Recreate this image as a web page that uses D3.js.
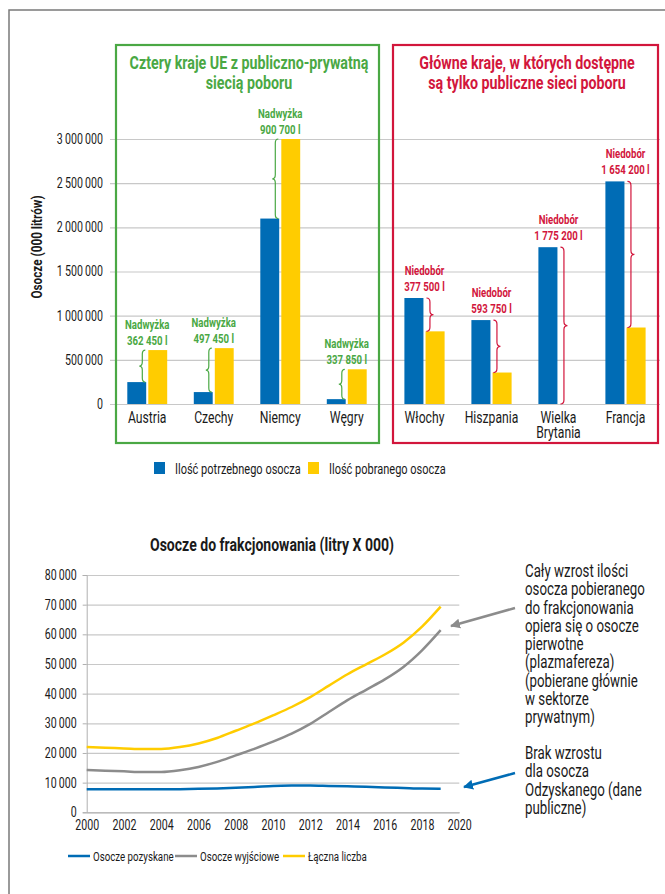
<!DOCTYPE html>
<html lang="pl">
<head>
<meta charset="UTF-8">
<title>Osocze</title>
<script src="https://d3js.org/d3.v7.min.js"></script>
<style>
  body { margin: 0; background: #fff; }
  svg text { font-family: Roboto, "Liberation Sans", sans-serif; fill: #1a1a1a; }
  .grid line { stroke: #c8c8c8; stroke-width: 1.2; }
  .grid path { display: none; }
</style>
</head>
<body>
<div id="chart"></div>
<script>
// ---- data: top chart (thousand litres) ----
var groupA = ["Austria", "Czechy", "Niemcy", "Węgry"]
var groupB = ["Włochy", "Hiszpania", "Wielka Brytania", "Francja"]
var neededA = [248000, 135000, 2099300, 55000]
var collectedA = [610450, 632450, 3000000, 392850]
var neededB = [1200000, 950000, 1775200, 2520000]
var collectedB = [822500, 356250, 0, 865800]
var surplusLabels = ["362 450 l", "497 450 l", "900 700 l", "337 850 l"]
var deficitLabels = ["377 500 l", "593 750 l", "1 775 200 l", "1 654 200 l"]
var barTicks = [0, 500000, 1000000, 1500000, 2000000, 2500000, 3000000]

// ---- data: bottom chart (litres x 000) ----
var years = [2000, 2001, 2002, 2003, 2004, 2005, 2006, 2007, 2008, 2009, 2010, 2011, 2012, 2013, 2014, 2015, 2016, 2017, 2018, 2019]
var recovered = [7750, 7750, 7750, 7750, 7750, 7800, 7900, 8050, 8300, 8550, 8850, 9000, 9050, 8900, 8750, 8600, 8400, 8200, 8000, 7950]
var source = [14250, 14000, 13800, 13550, 13600, 14200, 15300, 17000, 19200, 21400, 23800, 26500, 29800, 33800, 37800, 41300, 44800, 49000, 54600, 61400]
var total = [22000, 21750, 21550, 21300, 21350, 22000, 23200, 25050, 27500, 29950, 32650, 35500, 38850, 42700, 46550, 49900, 53200, 57200, 62600, 69350]
var lineTicks = [0, 10000, 20000, 30000, 40000, 50000, 60000, 70000, 80000]
var yearTicks = [2000, 2002, 2004, 2006, 2008, 2010, 2012, 2014, 2016, 2018, 2020]

var blue = "#006cb5", yellow = "#ffcc00", grey = "#8c8c8c"
var green = "#4aa844", red = "#d2163c"

var W = 665, H = 894
var svg = d3.select("#chart").append("svg").attr("width", W).attr("height", H)

var loc = d3.formatLocale({decimal: ",", thousands: "\u2009", grouping: [3], currency: ["", ""]})
var fmt = loc.format(",")

// outer frame
svg.append("path").attr("d", "M9," + H + "V10H" + W)
  .attr("fill", "none").attr("stroke", "#7a7a7a").attr("stroke-width", 1.5)

// ================= top chart =================
var y = d3.scaleLinear().domain([0, 3000000]).range([404, 139])

svg.append("g").attr("class", "grid")
  .attr("transform", "translate(110,0)")
  .call(d3.axisLeft(y).tickValues(barTicks).tickFormat(fmt).tickSize(-550).tickPadding(7))
  .selectAll("text").style("font-size", "14px").attr("fill", "#1a1a1a")

svg.append("text")
  .attr("transform", "translate(42,247) rotate(-90)")
  .attr("text-anchor", "middle")
  .style("font-size", "15.5px").style("font-weight", "bold")
  .text("Osocze (000 litrów)")

function bracePath(x, y1, y2, w) {
  var ym = (y1 + y2) / 2, r = Math.min(4, (y2 - y1) / 4), xm = x + w / 2
  return "M" + x + "," + y1 + "Q" + xm + "," + y1 + " " + xm + "," + (y1 + r) +
    "L" + xm + "," + (ym - r) + "Q" + xm + "," + ym + " " + (x + w) + "," + ym +
    "Q" + xm + "," + ym + " " + xm + "," + (ym + r) +
    "L" + xm + "," + (y2 - r) + "Q" + xm + "," + y2 + " " + x + "," + y2
}

function drawGroup(cats, needed, collected, x0, x1, boxColor, title, gapLabels, gapWord, surplus) {
  var x = d3.scaleBand().domain(cats).range([x0, x1]).paddingInner(0.4).paddingOuter(0.2)
  var sub = d3.scaleBand().domain(["n", "c"]).range([0, x.bandwidth()]).paddingInner(0.1)
  var rows = cats.map(function(c, i) { return {c: c, n: needed[i], v: collected[i], lab: gapLabels[i]} })

  var g = svg.append("g")
  g.selectAll(".bn").data(rows).enter().append("rect")
    .attr("x", function(d) { return x(d.c) + sub("n") })
    .attr("y", function(d) { return y(d.n) })
    .attr("width", sub.bandwidth())
    .attr("height", function(d) { return y(0) - y(d.n) })
    .attr("fill", blue)
  g.selectAll(".bc").data(rows).enter().append("rect")
    .attr("x", function(d) { return x(d.c) + sub("c") })
    .attr("y", function(d) { return y(d.v) })
    .attr("width", sub.bandwidth())
    .attr("height", function(d) { return y(0) - y(d.v) })
    .attr("fill", yellow)

  // braces + labels
  g.selectAll(".br").data(rows).enter().append("path")
    .attr("d", function(d) {
      if (surplus) return bracePath(x(d.c) + sub("c") - 3, y(d.v), y(d.n), -6)
      return bracePath(x(d.c) + sub("n") + sub.bandwidth() + 3, y(d.n), y(d.v), 7)
    })
    .attr("fill", "none").attr("stroke", boxColor).attr("stroke-width", 1.2)

  var lab = g.selectAll(".lb").data(rows).enter().append("text")
    .attr("x", function(d) { return x(d.c) + x.bandwidth() / 2 })
    .attr("y", function(d) { return surplus ? y(d.v) - 21 : y(d.n) - 23 })
    .attr("text-anchor", "middle")
    .attr("data-k", 0.74)
    .style("font-size", "13px").style("font-weight", "bold")
    .style("fill", boxColor)
  lab.append("tspan").text(gapWord)
  lab.append("tspan").attr("x", function(d) { return x(d.c) + x.bandwidth() / 2 })
    .attr("dy", 16).text(function(d) { return d.lab })

  // category labels
  var cl = g.selectAll(".cl").data(cats).enter().append("text")
    .attr("x", function(d) { return x(d) + x.bandwidth() / 2 })
    .attr("y", 423)
    .attr("text-anchor", "middle")
    .style("font-size", "16px")
  cl.each(function(d) {
    var parts = d === "Wielka Brytania" ? ["Wielka", "Brytania"] : [d]
    var t = d3.select(this)
    parts.forEach(function(p, i) {
      t.append("tspan").attr("x", x(d) + x.bandwidth() / 2).attr("dy", i ? 15 : 0).text(p)
    })
  })

  // frame + title
  svg.append("rect").attr("x", x0 + 2).attr("y", 45).attr("width", x1 - x0 - 3).attr("height", 398)
    .attr("fill", "none").attr("stroke", boxColor).attr("stroke-width", 2.2)
  var tt = svg.append("text").attr("text-anchor", "middle")
    .attr("x", (x0 + x1) / 2 + 2).attr("y", 69)
    .attr("data-k", 0.77)
    .style("font-size", "18.5px").style("font-weight", "bold").style("fill", boxColor)
  title.forEach(function(s, i) {
    tt.append("tspan").attr("x", (x0 + x1) / 2 + 2).attr("dy", i ? 20.5 : 0).text(s)
  })
}

drawGroup(groupA, neededA, collectedA, 114, 380, green,
  ["Cztery kraje UE z publiczno-prywatną", "siecią poboru"], surplusLabels, "Nadwyżka", true)
drawGroup(groupB, neededB, collectedB, 391, 659, red,
  ["Główne kraje, w których dostępne", "są tylko publiczne sieci poboru"], deficitLabels, "Niedobór", false)

// top legend
var leg1 = [{t: "Ilość potrzebnego osocza", c: blue, x: 154}, {t: "Ilość pobranego osocza", c: yellow, x: 308}]
var lg = svg.append("g").selectAll("g").data(leg1).enter().append("g")
lg.append("rect").attr("x", function(d) { return d.x }).attr("y", 462)
  .attr("width", 11).attr("height", 12).attr("fill", function(d) { return d.c })
lg.append("text").attr("x", function(d) { return d.x + 21 }).attr("y", 474)
  .style("font-size", "14.5px").text(function(d) { return d.t })

// ================= bottom chart =================
var xl = d3.scaleLinear().domain([2000, 2020]).range([86.7, 459.3])
var yl = d3.scaleLinear().domain([0, 80000]).range([812.3, 575])

svg.append("text").attr("x", 272).attr("y", 551).attr("text-anchor", "middle")
  .style("font-size", "18.5px").style("font-weight", "bold")
  .text("Osocze do frakcjonowania (litry X 000)")

svg.append("g").attr("class", "grid")
  .attr("transform", "translate(86.7,0)")
  .call(d3.axisLeft(yl).tickValues(lineTicks).tickFormat("").tickSize(-372.6))

var ya = svg.append("g").attr("transform", "translate(86.7,0)")
  .call(d3.axisLeft(yl).tickValues(lineTicks).tickFormat(fmt).tickSize(4).tickPadding(6))
ya.selectAll("line,path").attr("stroke", "#b0b0b0")
ya.selectAll("text").style("font-size", "14px").attr("fill", "#1a1a1a")

var xa = svg.append("g").attr("transform", "translate(0,812.3)")
  .call(d3.axisBottom(xl).tickValues(yearTicks).tickFormat(d3.format("d")).tickSize(0).tickPadding(8))
xa.select("path").attr("stroke", "#b0b0b0")
xa.selectAll("text").style("font-size", "14px").attr("fill", "#1a1a1a")

var series = [
  {name: "Osocze pozyskane", v: recovered, c: blue},
  {name: "Osocze wyjściowe", v: source, c: grey},
  {name: "Łączna liczba", v: total, c: yellow}
]
var line = d3.line()
  .x(function(d, i) { return xl(years[i]) })
  .y(function(d) { return yl(d) })
  .curve(d3.curveMonotoneX)

svg.append("g").selectAll("path").data(series).enter().append("path")
  .attr("d", function(s) { return line(s.v) })
  .attr("fill", "none").attr("stroke", function(s) { return s.c }).attr("stroke-width", 2.5)

// bottom legend
var legX = [68, 175, 283]
var l2 = svg.append("g").selectAll("g").data(series).enter().append("g")
l2.append("line").attr("x1", function(d, i) { return legX[i] }).attr("x2", function(d, i) { return legX[i] + 22 })
  .attr("y1", 856).attr("y2", 856).attr("stroke", function(d) { return d.c }).attr("stroke-width", 2.5)
l2.append("text").attr("x", function(d, i) { return legX[i] + 25 }).attr("y", 861)
  .attr("data-k", 0.72)
  .style("font-size", "13.5px").text(function(d) { return d.name })

// side notes + arrows
svg.append("defs").selectAll("marker").data([["ag", grey], ["ab", blue]]).enter().append("marker")
  .attr("id", function(d) { return d[0] })
  .attr("viewBox", "0 0 10 10").attr("refX", 9).attr("refY", 5)
  .attr("markerWidth", 4).attr("markerHeight", 4).attr("orient", "auto")
  .append("path").attr("d", "M0,0L10,5L0,10z").attr("fill", function(d) { return d[1] })

svg.append("line").attr("x1", 515).attr("y1", 608).attr("x2", 451).attr("y2", 626)
  .attr("stroke", grey).attr("stroke-width", 2.5).attr("marker-end", "url(#ag)")
svg.append("line").attr("x1", 515).attr("y1", 773).attr("x2", 464).attr("y2", 787)
  .attr("stroke", blue).attr("stroke-width", 2.5).attr("marker-end", "url(#ab)")

var note1 = ["Cały wzrost ilości", "osocza pobieranego", "do frakcjonowania", "opiera się o osocze",
  "pierwotne", "(plazmafereza)", "(pobierane głównie", "w sektorze", "prywatnym)"]
var note2 = ["Brak wzrostu", "dla osocza", "Odzyskanego (dane", "publiczne)"]
function note(lines, y0) {
  var t = svg.append("text").attr("x", 525).attr("y", y0).style("font-size", "17.5px")
  lines.forEach(function(s, i) { t.append("tspan").attr("x", 525).attr("dy", i ? 18.3 : 0).text(s) })
}
note(note1, 577)
note(note2, 759)

// the source uses a condensed face: squeeze every text around its own anchor
svg.selectAll("text").each(function() {
  var k = +this.getAttribute("data-k") || 0.76
  var ax = +this.getAttribute("x") || 0
  var tr = this.getAttribute("transform") || ""
  this.setAttribute("transform", tr + " translate(" + ax + ",0) scale(" + k + ",1) translate(" + (-ax) + ",0)")
})
</script>
</body>
</html>
